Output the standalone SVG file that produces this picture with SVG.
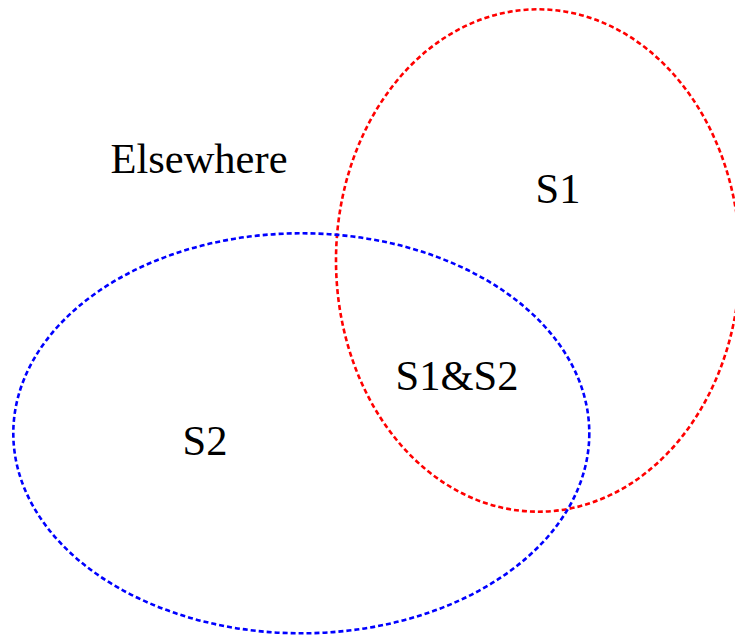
<svg xmlns="http://www.w3.org/2000/svg" width="735" height="635" viewBox="0 0 735 635">
<style>
.set{fill:none;stroke-width:2.6;stroke-dasharray:5,3}
.lbl{font-family:"Liberation Serif","Times New Roman",serif;font-size:42.5px;fill:#000;text-anchor:middle}
</style>
<rect width="735" height="635" fill="#fff"/>
<g id="S1">
<ellipse class="set" cx="538" cy="260.5" rx="202" ry="251.2" stroke="#ff0000"/>
<text class="lbl" x="558" y="203">S1</text>
</g>
<g id="S2">
<ellipse class="set" cx="301.3" cy="433.3" rx="288" ry="200" stroke="#0000ff"/>
<text class="lbl" x="205" y="455">S2</text>
</g>
<g id="S1andS2">
<text class="lbl" x="457" y="390">S1&amp;S2</text>
</g>
<g id="Elsewhere">
<text class="lbl" x="199" y="172.7">Elsewhere</text>
</g>
<g id="connectors"/>
</svg>
